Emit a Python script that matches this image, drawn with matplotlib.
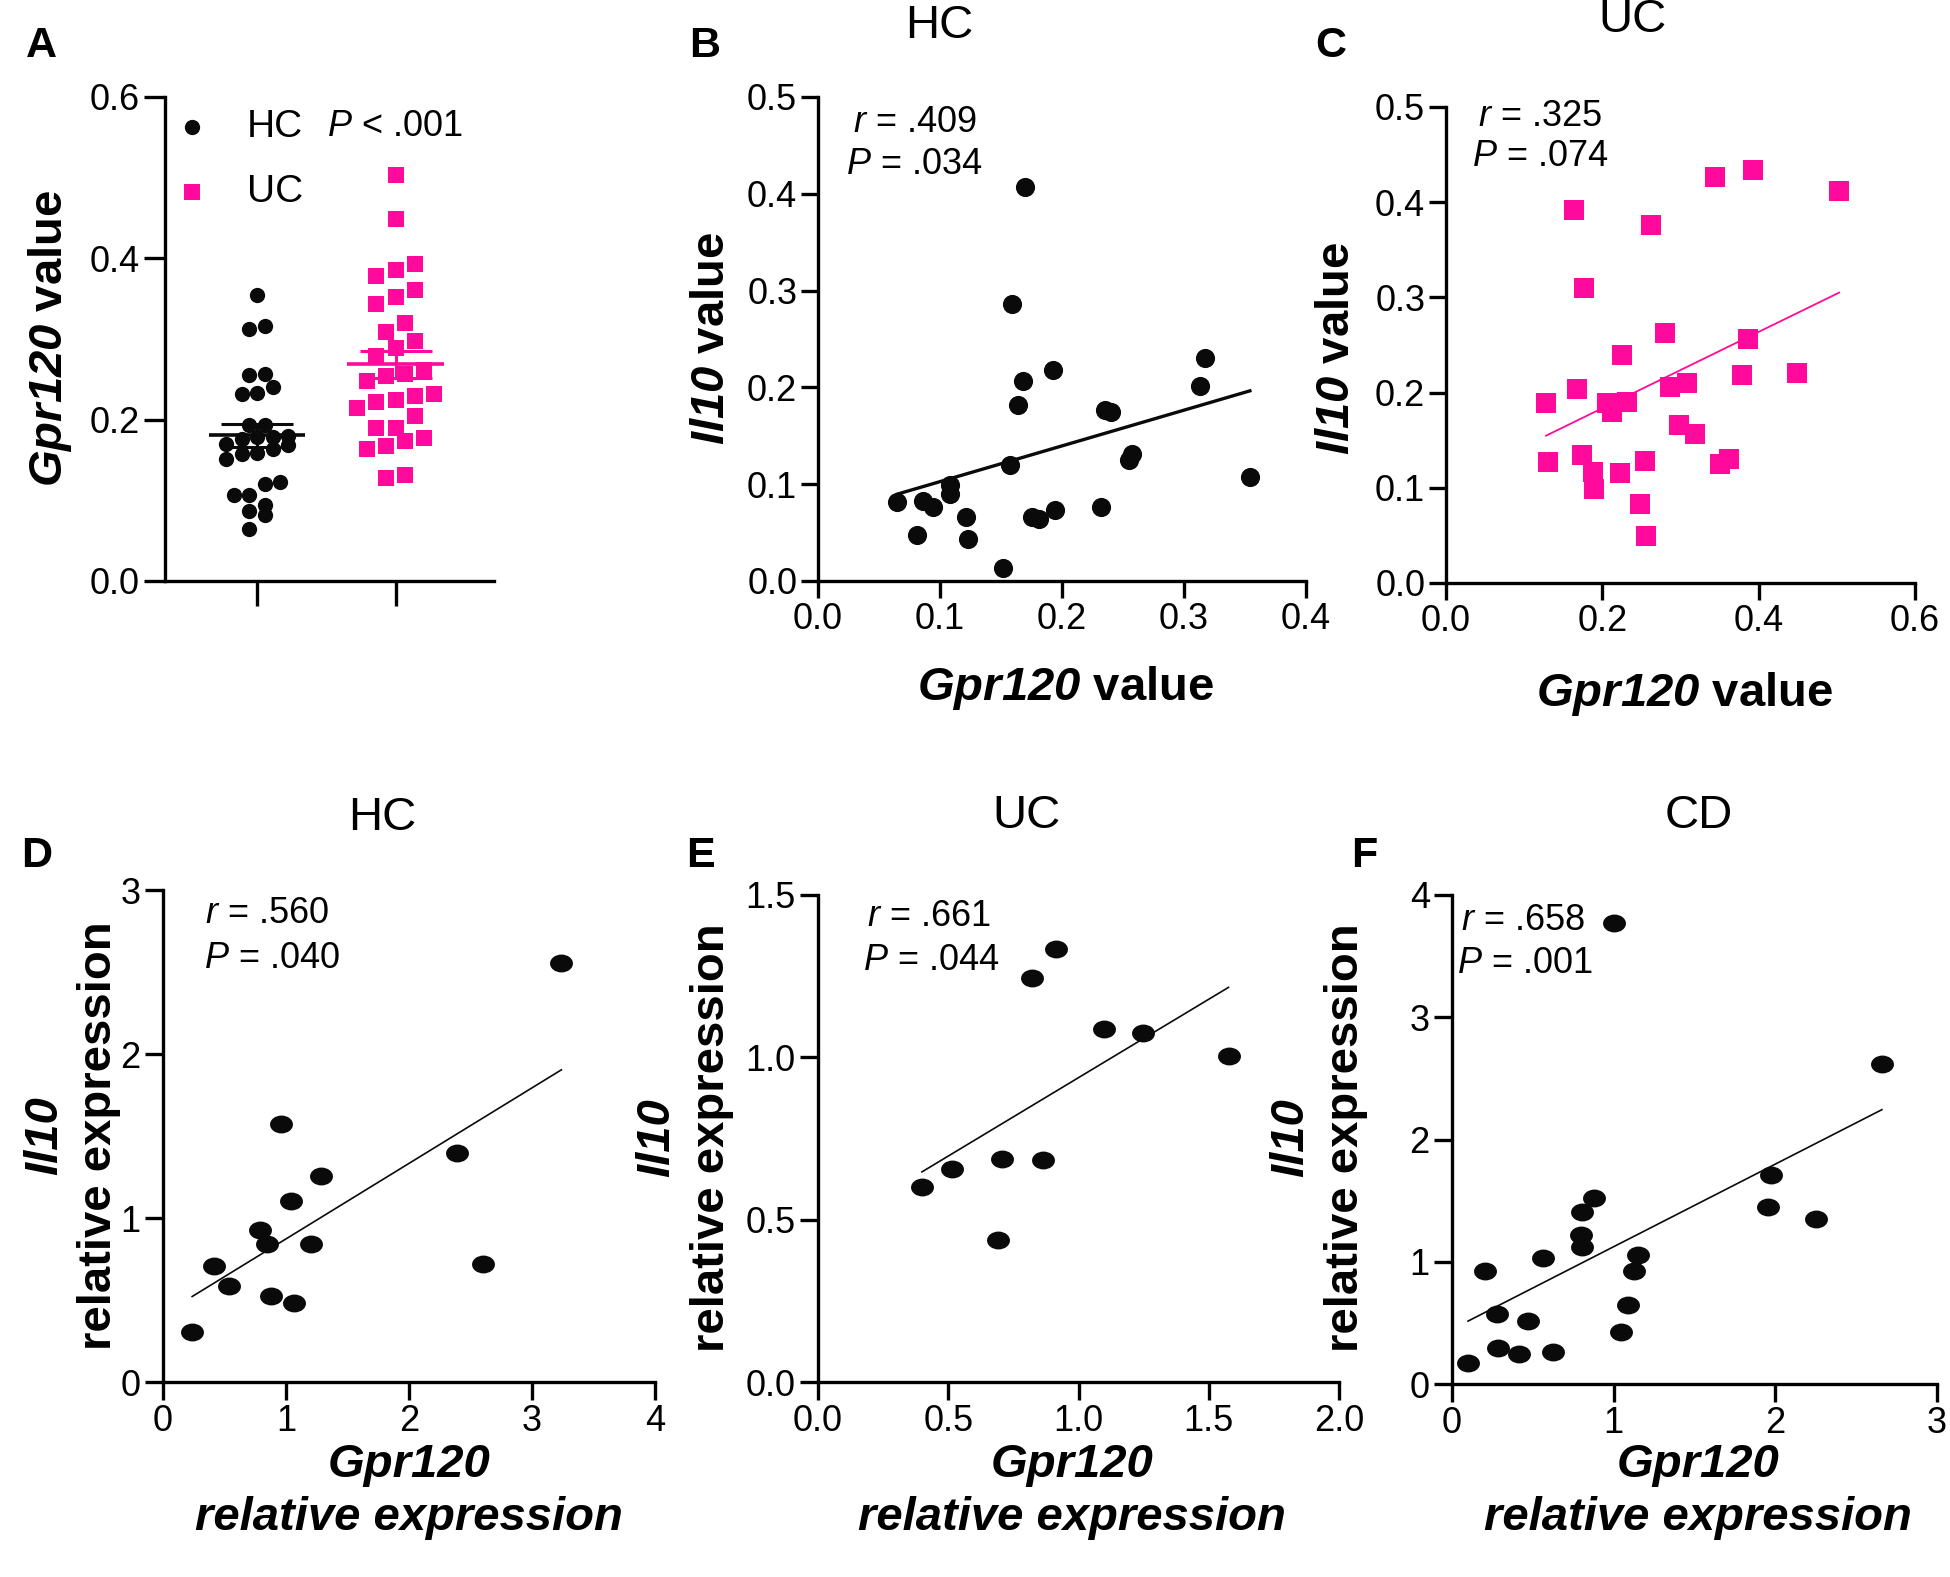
import numpy as np
import matplotlib
matplotlib.use('Agg')
import matplotlib.pyplot as plt
from matplotlib.path import Path

# ---------------- data ----------------
groups_a = ['HC', 'UC']
hc_gpr120 = [0.354, 0.316, 0.313, 0.256, 0.255, 0.240, 0.233, 0.232, 0.194, 0.193,
             0.180, 0.179, 0.179, 0.176, 0.170, 0.168, 0.164, 0.159, 0.157, 0.151,
             0.123, 0.120, 0.107, 0.107, 0.094, 0.087, 0.082, 0.064]
uc_gpr120 = [0.503, 0.449, 0.393, 0.385, 0.378, 0.361, 0.352, 0.343, 0.320, 0.309,
             0.298, 0.289, 0.279, 0.262, 0.257, 0.254, 0.248, 0.232, 0.229, 0.225,
             0.222, 0.214, 0.205, 0.190, 0.190, 0.177, 0.174, 0.167, 0.164, 0.131, 0.128]
p_text_a = '< .001'

b_gpr120 = [0.170, 0.159, 0.168, 0.193, 0.164, 0.317, 0.313, 0.235, 0.240, 0.257,
            0.255, 0.354, 0.157, 0.108, 0.108, 0.065, 0.086, 0.094, 0.081, 0.121,
            0.123, 0.175, 0.181, 0.194, 0.232, 0.152]
b_il10 = [0.407, 0.286, 0.207, 0.218, 0.182, 0.230, 0.201, 0.177, 0.175, 0.131,
          0.125, 0.107, 0.120, 0.099, 0.090, 0.082, 0.083, 0.076, 0.048, 0.066,
          0.043, 0.066, 0.064, 0.073, 0.076, 0.013]

c_gpr120 = [0.164, 0.262, 0.344, 0.393, 0.503, 0.177, 0.280, 0.386, 0.225, 0.379,
            0.449, 0.167, 0.128, 0.287, 0.308, 0.206, 0.212, 0.231, 0.298, 0.319,
            0.131, 0.174, 0.188, 0.189, 0.222, 0.254, 0.351, 0.362, 0.248, 0.256]
c_il10 = [0.392, 0.376, 0.426, 0.434, 0.412, 0.310, 0.263, 0.256, 0.239, 0.219,
          0.221, 0.204, 0.189, 0.206, 0.210, 0.189, 0.180, 0.190, 0.166, 0.157,
          0.127, 0.134, 0.117, 0.099, 0.116, 0.128, 0.125, 0.130, 0.083, 0.049]

d_gpr120 = [3.239, 2.389, 2.602, 0.956, 1.285, 1.037, 0.789, 0.842, 1.204, 0.418,
            0.538, 0.878, 1.069, 0.237]
d_il10 = [2.552, 1.398, 0.721, 1.571, 1.259, 1.104, 0.928, 0.844, 0.841, 0.705,
          0.588, 0.526, 0.479, 0.303]

e_gpr120 = [0.399, 0.516, 0.706, 0.863, 0.691, 0.823, 0.913, 1.096, 1.247, 1.576]
e_il10 = [0.602, 0.656, 0.688, 0.683, 0.438, 1.245, 1.333, 1.086, 1.075, 1.003]

f_gpr120 = [1.000, 2.659, 1.973, 1.956, 2.252, 0.877, 0.807, 0.795, 0.807, 1.153,
            1.123, 1.086, 1.047, 0.565, 0.202, 0.277, 0.469, 0.284, 0.417, 0.622, 0.099]
f_il10 = [3.771, 2.617, 1.708, 1.450, 1.346, 1.525, 1.408, 1.221, 1.117, 1.054,
          0.921, 0.650, 0.429, 1.033, 0.921, 0.575, 0.513, 0.292, 0.242, 0.263, 0.171]

panel_titles = ['HC', 'UC', 'HC', 'UC', 'CD']
r_values = ['.409', '.325', '.560', '.661', '.658']
p_values = ['.034', '.074', '.040', '.044', '.001']

# ---------------- style ----------------
plt.rcParams['font.family'] = ['Liberation Sans', 'DejaVu Sans']
plt.rcParams['mathtext.fontset'] = 'custom'
plt.rcParams['mathtext.rm'] = 'Liberation Sans'
plt.rcParams['mathtext.it'] = 'Liberation Sans:italic'
plt.rcParams['mathtext.bf'] = 'Liberation Sans:bold'
plt.rcParams['mathtext.bfit'] = 'Liberation Sans:italic:bold'

MAG = '#FF0A9C'
BLK = '#0A0A0A'
W, H = 1950, 1577
TICK_FS = 26
LAB_FS = 34
TITLE_FS = 34
LET_FS = 31
ANN_FS = 26

fig = plt.figure(figsize=(W / 100, H / 100), dpi=100)


def add_ax(l, t, r, b):
    return fig.add_axes([l / W, 1 - b / H, (r - l) / W, (b - t) / H])


def style(ax, ticklen=11):
    for s in ['top', 'right']:
        ax.spines[s].set_visible(False)
    for s in ['left', 'bottom']:
        ax.spines[s].set_linewidth(2.4)
        ax.spines[s].set_capstyle('projecting')
    ax.tick_params(width=2.4, length=ticklen, labelsize=TICK_FS, pad=3,
                   direction='out', colors='black')


def ftext(x, y, s, **kw):
    kw.setdefault('ha', 'center')
    kw.setdefault('va', 'center')
    return fig.text(x / W, 1 - y / H, s, **kw)


def row_offsets(vals, ypx_per_unit, step_px, bin_px, xpx_per_unit):
    """Group sorted values into rows of height bin_px and spread each row
    symmetrically (scatter-dot style)."""
    vals = np.asarray(vals)
    order = np.argsort(vals)
    offs = np.zeros(len(vals))
    rows, cur, start = [], [], None
    for i in order:
        y = vals[i] * ypx_per_unit
        if cur and y - start >= bin_px:
            rows.append(cur)
            cur = []
        if not cur:
            start = y
        cur.append(i)
    if cur:
        rows.append(cur)
    for r in rows:
        n = len(r)
        for j, i in enumerate(r):
            offs[i] = (j - (n - 1) / 2) * step_px / xpx_per_unit
    return offs


# ---------------- Panel A ----------------
axA = add_ax(165, 97, 494, 581)
style(axA, ticklen=15)
xpx_unit = 138.5
axA.set_xlim(-(257 - 165) / xpx_unit, 1 + (494 - 395.5) / xpx_unit)
axA.set_ylim(0, 0.6)
ypx_unit = (581 - 97) / 0.6
for i, (vals, mk, col, step, binh) in enumerate(
        [(hc_gpr120, 'o', BLK, 15.5, 15.0), (uc_gpr120, 's', MAG, 19.3, 19.0)]):
    offs = row_offsets(vals, ypx_unit, step, binh, xpx_unit)
    axA.plot(i + offs, vals, ls='none', marker=mk, ms=11, mfc=col, mec=col,
             mew=0, clip_on=False, zorder=3)
    v = np.asarray(vals)
    m = v.mean()
    sem = v.std(ddof=1) / np.sqrt(len(v))
    axA.hlines(m, i - 0.35, i + 0.35, color=col, lw=2.6, zorder=4)
    axA.errorbar([i], [m], yerr=[sem], color=col, lw=2.2, capsize=26,
                 capthick=2.2, zorder=4)
axA.set_xticks([0, 1])
axA.set_xticklabels(['', ''])
axA.set_yticks([0.0, 0.2, 0.4, 0.6])
axA.set_yticklabels(['0.0', '0.2', '0.4', '0.6'])
axA.tick_params(axis='x', length=18)
# legend
lx = lambda px: (px - 165) / (494 - 165)
ly = lambda py: 1 - (py - 97) / (581 - 97)
axA.plot([lx(192)], [ly(127)], transform=axA.transAxes, marker='o', ms=11,
         mfc=BLK, mec=BLK, mew=0, clip_on=False)
axA.plot([lx(192)], [ly(192)], transform=axA.transAxes, marker='s', ms=11,
         mfc=MAG, mec=MAG, mew=0, clip_on=False)
ftext(247, 127, groups_a[0], fontsize=28, ha='left')
ftext(247, 192, groups_a[1], fontsize=28, ha='left')
ftext(395, 127, r'$\mathit{P}$ ' + p_text_a, fontsize=26)
ftext(50, 338, r'$\mathbfit{Gpr120}$ value', fontsize=LAB_FS, fontweight='bold',
      rotation=90)
ftext(41, 46, 'A', fontsize=LET_FS, fontweight='bold')


# ---------------- scatter panels ----------------
def scatter_panel(box, xs, ys, xlim, ylim, xticks, yticks, xfmt, yfmt, marker,
                  ms, color, fit_lw, ticklen):
    ax = add_ax(*box)
    style(ax, ticklen=ticklen)
    ax.set_xlim(*xlim)
    ax.set_ylim(*ylim)
    ax.plot(xs, ys, ls='none', marker=marker, ms=ms, mfc=color, mec=color,
            mew=0, clip_on=False, zorder=3)
    k, b0 = np.polyfit(xs, ys, 1)
    xx = np.array([min(xs), max(xs)])
    ax.plot(xx, k * xx + b0, color=color, lw=fit_lw, zorder=2)
    ax.set_xticks(xticks)
    ax.set_xticklabels([xfmt.format(t) for t in xticks])
    ax.set_yticks(yticks)
    ax.set_yticklabels([yfmt.format(t) for t in yticks])
    return ax


circ = Path.unit_circle()
ellipse = Path(circ.vertices * np.array([1.0, 0.78]), circ.codes)

# B
scatter_panel((818, 97, 1306, 581), b_gpr120, b_il10, (0, 0.4), (0, 0.5),
              [0, 0.1, 0.2, 0.3, 0.4], [0, 0.1, 0.2, 0.3, 0.4, 0.5],
              '{:.1f}', '{:.1f}', 'o', 13.8, BLK, 2.4, 12)
# C
scatter_panel((1446, 107, 1915, 583), c_gpr120, c_il10, (0, 0.6), (0, 0.5),
              [0, 0.2, 0.4, 0.6], [0, 0.1, 0.2, 0.3, 0.4, 0.5],
              '{:.1f}', '{:.1f}', 's', 15, MAG, 1.3, 12)
# D
scatter_panel((163, 890, 655, 1382), d_gpr120, d_il10, (0, 4), (0, 3),
              [0, 1, 2, 3, 4], [0, 1, 2, 3], '{:.0f}', '{:.0f}',
              ellipse, 16.5, BLK, 1.2, 13)
# E
scatter_panel((818, 895, 1339, 1382), e_gpr120, e_il10, (0, 2), (0, 1.5),
              [0, 0.5, 1.0, 1.5, 2.0], [0, 0.5, 1.0, 1.5], '{:.1f}', '{:.1f}',
              ellipse, 16.5, BLK, 1.2, 13)
# F
scatter_panel((1452, 895, 1937, 1384), f_gpr120, f_il10, (0, 3), (0, 4),
              [0, 1, 2, 3], [0, 1, 2, 3, 4], '{:.0f}', '{:.0f}',
              ellipse, 16.5, BLK, 1.2, 13)

# letters
for s, (x, y) in zip('BCDEF', [(705, 46), (1331, 46), (37, 856), (700, 856),
                              (1364, 856)]):
    ftext(x, y, s, fontsize=LET_FS, fontweight='bold')

# titles
for s, (x, y) in zip(panel_titles, [(939, 26), (1632, 20), (382, 818),
                                    (1027, 816), (1699, 816)]):
    ftext(x, y, s, fontsize=TITLE_FS)

# r / P annotations
ann_pos = [((915, 123), (914, 165)), ((1540, 116), (1540, 157)),
           ((267, 914), (272, 958)), ((929, 917), (931, 960)),
           ((1523, 920), (1525, 964))]
for rv, pv, (rp, pp) in zip(r_values, p_values, ann_pos):
    ftext(rp[0], rp[1], r'$\mathit{r}$ = ' + rv, fontsize=ANN_FS)
    ftext(pp[0], pp[1], r'$\mathit{P}$ = ' + pv, fontsize=ANN_FS)

# axis labels B / C
ftext(712, 338, r'$\mathbfit{Il10}$ value', fontsize=LAB_FS, fontweight='bold',
      rotation=90)
ftext(1066, 688, r'$\mathbfit{Gpr120}$ value', fontsize=LAB_FS, fontweight='bold')
ftext(1337, 348, r'$\mathbfit{Il10}$ value', fontsize=LAB_FS, fontweight='bold',
      rotation=90)
ftext(1685, 694, r'$\mathbfit{Gpr120}$ value', fontsize=LAB_FS, fontweight='bold')

# axis labels D / E / F
for (x1, x2, yc), xc in zip([(45, 99, 1136), (657, 712, 1138), (1291, 1346, 1138)],
                            [409, 1072, 1698]):
    ftext(x1, yc, 'Il10', fontsize=LAB_FS, fontweight='bold', fontstyle='italic',
          rotation=90)
    ftext(x2, yc, 'relative expression', fontsize=LAB_FS, fontweight='bold',
          rotation=90)
    ftext(xc, 1465, 'Gpr120', fontsize=LAB_FS, fontweight='bold',
          fontstyle='italic')
    ftext(xc, 1518, 'relative expression', fontsize=LAB_FS, fontweight='bold',
          fontstyle='italic')

fig.savefig('out.png', dpi=100, facecolor='white')
